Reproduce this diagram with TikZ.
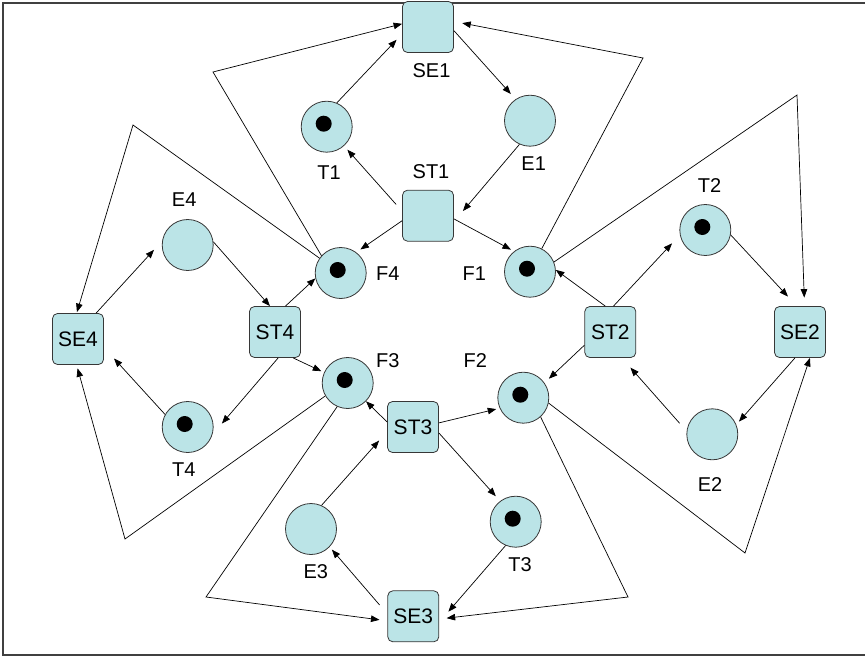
\documentclass[tikz,border=0pt]{standalone}
\usepackage{fontspec}
\setmainfont{Liberation Sans}
\usetikzlibrary{arrows.meta}
\definecolor{netfill}{RGB}{187,228,231}
\definecolor{netline}{RGB}{55,55,55}
\begin{document}
\begin{tikzpicture}[x=1pt,y=-1pt,
  place/.style={circle,draw=netline,fill=netfill,minimum size=51pt,inner sep=0pt,line width=0.8pt},
  trans/.style={rectangle,rounded corners=5pt,draw=netline,fill=netfill,minimum size=51pt,inner sep=0pt,line width=0.8pt,font=\fontsize{21}{24}\selectfont},
  lbl/.style={inner sep=0pt,font=\fontsize{20}{23}\selectfont},
  arc/.style={-{Triangle[length=8.5pt,width=6.5pt]},line width=0.7pt,line join=miter},
  tokendot/.style={fill=black}
]
\useasboundingbox (0,0) rectangle (865,656);
% frame
\draw[black!75,line width=2pt] (865,2.5) -- (2.5,2.5) -- (2.5,654.5) -- (865,654.5);

% places and transitions
\node[trans] (SE1) at (428,27) {};
\node[trans] (ST1) at (428,215.7) {};
\node[place] (T1) at (326.7,126.7) {};
\node[place] (E1) at (530,120.7) {};
\node[place] (F4) at (340.7,273) {};
\node[place] (F1) at (530,271.7) {};

\node[place] (E4) at (187.7,245) {};
\node[trans] (SE4) at (78,339) {SE4};
\node[trans] (ST4) at (275,332) {ST4};
\node[place] (F3) at (347.7,383) {};
\node[place] (T4) at (187.7,427) {};

\node[place] (E3) at (311,529) {};
\node[trans] (ST3) at (413,427) {ST3};
\node[trans] (SE3) at (413.3,616.3) {SE3};
\node[place] (T3) at (515.7,521.7) {};

\node[place] (T2) at (705.3,230) {};
\node[trans] (SE2) at (800,332) {SE2};
\node[trans] (ST2) at (610.3,332) {ST2};
\node[place] (F2) at (523.3,397.7) {};
\node[place] (E2) at (712.3,434.3) {};

% tokens
\foreach \p in {T1,F4,F1,F3,T4,T3,T2,F2}
  \fill[tokendot] ([shift={(-3,-3)}]\p.center) circle[radius=8];

% labels
\node[lbl] (lSE1) at (431.5,70.3) {SE1};
\node[lbl] (lST1) at (431,171.7) {ST1};
\node[lbl] (lT1) at (329,172.3) {T1};
\node[lbl] (lE1) at (533.7,163.3) {E1};
\node[lbl] (lF4) at (387.8,274) {F4};
\node[lbl] (lF1) at (474.3,274) {F1};
\node[lbl] (lE4) at (184.2,200) {E4};
\node[lbl] (lT4) at (183.7,470) {T4};
\node[lbl] (lF3) at (387.8,360.7) {F3};
\node[lbl] (lT2) at (709.5,186) {T2};
\node[lbl] (lF2) at (475.3,360.7) {F2};
\node[lbl] (lE2) at (710,484.3) {E2};
\node[lbl] (lE3) at (315.8,571.7) {E3};
\node[lbl] (lT3) at (520,564.3) {T3};

% bend points of the long fork arcs
\coordinate (LA1) at (213,72);
\coordinate (RA1) at (643,58);
\coordinate (LA4) at (133,125);
\coordinate (LB4) at (125,539);
\coordinate (LB3) at (206,597);
\coordinate (RB3) at (628,597);
\coordinate (RA2) at (797,95);
\coordinate (RB2) at (745,553);

% philosopher 1
\draw[arc,shorten >=8pt] (T1.67) -- (SE1.195);
\draw[arc,shorten >=7pt] (SE1.-8) -- (E1.124);
\draw[arc,shorten >=14pt] (E1.-114) -- (ST1.-13);
\draw[arc,shorten <=9pt,shorten >=5pt] (ST1.170) -- (T1.-48);
\draw[arc,shorten >=5pt] (ST1.191) -- (F4.53);
\draw[arc,shorten >=3.5pt] (ST1.-7) -- (F1.128);
\draw[arc] (F4.138) -- (LA1) -- (SE1.173);
\draw[arc,shorten >=8.5pt] (F1.63) -- (RA1) -- (SE1.12);

% philosopher 4
\draw[arc,shorten >=1pt] (F4.145) -- (LA4) -- (SE4.93);
\draw[arc,shorten >=12pt] (SE4.55) -- (E4.171);
\draw[arc] (E4.7) -- (ST4.101);
\draw[arc] (ST4.68) -- (F4.192);
\draw[arc,shorten >=3pt] (ST4.-55) -- (F3.156);
\draw[arc,shorten >=14.5pt] (ST4.-83) -- (T4.-17);
\draw[arc,shorten >=15pt] (T4.151) -- (SE4.-18);
\draw[arc,shorten >=3.5pt] (F3.210) -- (LB4) -- (SE4.267);

% philosopher 3
\draw[arc,shorten >=8pt] (F3.246) -- (LB3) -- (SE3.190);
\draw[arc,shorten >=12pt] (E3.66) -- (ST3.190);
\draw[arc] (ST3.169) -- (F3.-45);
\draw[arc,shorten >=3.5pt] (ST3.9) -- (F2.204);
\draw[arc,shorten >=6.5pt] (ST3.-13) -- (T3.127);
\draw[arc,shorten >=14pt] (T3.247) -- (SE3.-13);
\draw[arc,shorten <=12pt,shorten >=3.5pt] (SE3.175) -- (E3.-44);
\draw[arc,shorten >=7.5pt] (F2.-48) -- (RB3) -- (SE3.-6);

% philosopher 2
\draw[arc,shorten >=8.5pt] (F1.22) -- (RA2) -- (SE2.80);
\draw[arc,shorten >=13pt] (T2.-11) -- (SE2.97);
\draw[arc,shorten >=11.5pt] (ST2.83) -- (T2.191);
\draw[arc] (ST2.101) -- (F1.4);
\draw[arc,shorten >=6pt] (ST2.207) -- (F2.35);
\draw[arc,shorten <=10.5pt,shorten >=13pt] (E2.173) -- (ST2.-66);
\draw[arc,shorten >=4pt] (SE2.259) -- (E2.22);
\draw[arc] (F2.-12) -- (RB2) -- (SE2.-69);
\end{tikzpicture}
\end{document}
